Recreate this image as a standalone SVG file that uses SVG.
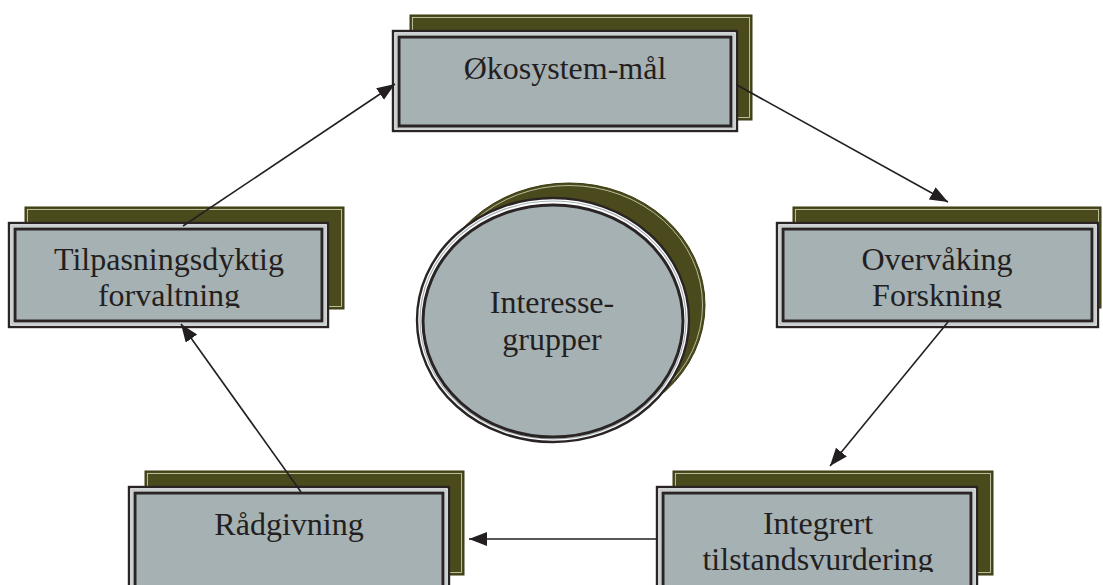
<svg xmlns="http://www.w3.org/2000/svg" width="1103" height="585" viewBox="0 0 1103 585">
<style>
.sh{fill:#4a4a1c;stroke:#3a3a12;stroke-width:1}
.shl{fill:none;stroke:#d6d6bc;stroke-width:0.8}
.fo{fill:#ffffff;stroke:#2b2425;stroke-width:2.4}
.fm{fill:none;stroke:#a6b1b4;stroke-width:1.2}
.fi{fill:#a6b1b4;stroke:#2b2425;stroke-width:3}
.t{font-family:"Liberation Serif","Times New Roman",serif;font-size:32px;fill:#231f20;text-anchor:middle}
.c{fill:none;stroke:#231f20;stroke-width:1.6}
</style>
<defs>
<marker id="ah" markerUnits="userSpaceOnUse" markerWidth="20" markerHeight="16" refX="18" refY="7" orient="auto">
<path d="M0,0 L18,7 L0,14 Z" fill="#231f20"/>
</marker>
<clipPath id="clL"><rect x="0" y="220" width="340" height="88"/></clipPath>
<clipPath id="clR"><rect x="770" y="220" width="333" height="88"/></clipPath>
<clipPath id="clI"><rect x="650" y="485" width="340" height="87"/></clipPath>
</defs>

<g id="node-okosystem">
<rect class="sh" x="410" y="15" width="342" height="105"/>
<rect class="shl" x="412.5" y="17.5" width="337" height="100"/>
<rect class="fo" x="393" y="31" width="344" height="100"/>
<rect class="fm" x="396" y="34" width="338" height="94"/>
<rect class="fi" x="399" y="37" width="332" height="89"/>
<text class="t" x="565" y="79">Økosystem-mål</text>
</g>

<g id="node-overvaking">
<rect class="sh" x="793" y="207" width="308" height="101"/>
<rect class="shl" x="795.5" y="209.5" width="303" height="96"/>
<rect class="fo" x="777" y="223" width="321" height="104"/>
<rect class="fm" x="780" y="226" width="315" height="98"/>
<rect class="fi" x="783" y="229" width="309" height="92"/>
<g clip-path="url(#clR)">
<text class="t" x="937" y="270">Overvåking</text>
<text class="t" x="937" y="306">Forskning</text>
</g>
</g>

<g id="node-integrert">
<rect class="sh" x="673" y="471" width="320" height="104"/>
<rect class="shl" x="675.5" y="473.5" width="315" height="99"/>
<rect class="fo" x="657" y="487" width="320" height="104"/>
<rect class="fm" x="660" y="490" width="314" height="98"/>
<rect class="fi" x="663" y="493" width="308" height="96"/>
<g clip-path="url(#clI)">
<text class="t" x="818" y="534">Integrert</text>
<text class="t" x="818" y="570">tilstandsvurdering</text>
</g>
</g>

<g id="node-radgivning">
<rect class="sh" x="145" y="471" width="319" height="104"/>
<rect class="shl" x="147.5" y="473.5" width="314" height="99"/>
<rect class="fo" x="129" y="487" width="320" height="104"/>
<rect class="fm" x="132" y="490" width="314" height="98"/>
<rect class="fi" x="135" y="493" width="308" height="96"/>
<text class="t" x="289" y="535">Rådgivning</text>
</g>

<g id="node-tilpasning">
<rect class="sh" x="25" y="207" width="319" height="102"/>
<rect class="shl" x="27.5" y="209.5" width="314" height="97"/>
<rect class="fo" x="9" y="223" width="319" height="104"/>
<rect class="fm" x="12" y="226" width="313" height="98"/>
<rect class="fi" x="15" y="229" width="307" height="92"/>
<g clip-path="url(#clL)">
<text class="t" x="169" y="270">Tilpasningsdyktig</text>
<text class="t" x="169" y="306">forvaltning</text>
</g>
</g>

<g id="node-interessegrupper">
<ellipse class="sh" cx="569" cy="305" rx="136" ry="122"/>
<ellipse class="shl" cx="569" cy="305" rx="133.5" ry="119.5"/>
<ellipse class="fo" cx="553" cy="320" rx="136" ry="122"/>
<ellipse class="fm" cx="553" cy="320" rx="133" ry="119"/>
<ellipse class="fi" cx="553" cy="321" rx="130" ry="116"/>
<text class="t" x="552" y="313">Interesse-</text>
<text class="t" x="552" y="350">grupper</text>
</g>

<g id="connectors">
<line class="c" x1="183" y1="226" x2="395" y2="84" marker-end="url(#ah)"/>
<line class="c" x1="737" y1="85" x2="948" y2="202" marker-end="url(#ah)"/>
<line class="c" x1="948" y1="322" x2="830" y2="466" marker-end="url(#ah)"/>
<line class="c" x1="657" y1="539" x2="469" y2="539" marker-end="url(#ah)"/>
<line class="c" x1="301" y1="492" x2="181" y2="324" marker-end="url(#ah)"/>
</g>
</svg>
